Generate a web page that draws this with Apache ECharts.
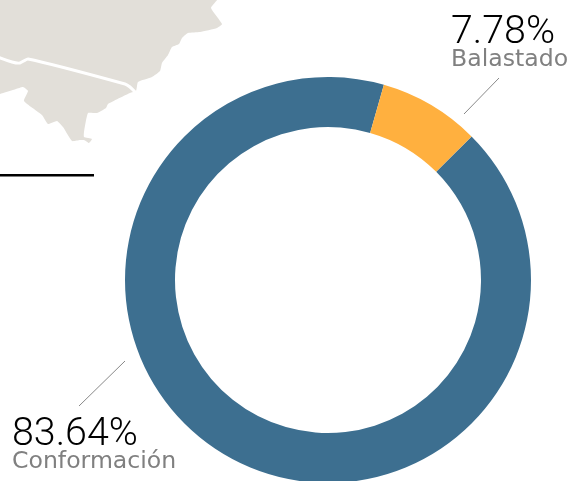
<!DOCTYPE html>
<html><head><meta charset="utf-8">
<style>html,body{margin:0;padding:0;background:#fff}#c{width:570px;height:481px}</style>
<script src="https://cdn.jsdelivr.net/npm/echarts@6/dist/echarts.min.js"></script>
</head><body><div id="c"></div>
<script>
const categories = ['Conformación', 'Balastado'];
const values = [83.64, 7.78];
const otherBlue = 5.1;
const colors = ['#3D6F90', '#FFB03F'];
const mapOutline = [[-20,-20],[225,-20],[217,0],[211,8],[222,24],[217,28],[200,32],[188,33],[182,38],[179,44],[172,47],[168,55],[162,63],[160,71],[152,77],[138,82],[136,91],[130,93],[108,104],[106,108],[97,113],[88,113],[84,132],[84,137],[92,139],[89,143],[84,140],[80,140],[72,141],[63,127],[57,121],[48,124],[42,115],[24,101],[28,91],[23,87],[16,89],[0,94],[-20,100]];
const mapBorder = [[-5,56],[12,62],[20,63],[28,59],[125,84],[130,87],[136,93]];
const fmt = v => v.toFixed(2) + '%';
const numFont = '300 39.4px Roboto, sans-serif';
const nameFont = '23.6px "DejaVu Sans", sans-serif';
function label(x, y, i) {
  return [
    {type:'text', style:{x, y, text:fmt(values[i]), font:numFont, fill:'#000'}},
    {type:'text', style:{x, y:y+34, text:categories[i], font:nameFont, fill:'#808080'}}
  ];
}
const chart = echarts.init(document.getElementById('c'), null, {renderer:'canvas'});
chart.setOption({
  animation:false,
  graphic:[
    {type:'polygon', shape:{points:mapOutline, smooth:0.15}, style:{fill:'#E2DFD9'}, z:0},
    {type:'polyline', shape:{points:mapBorder, smooth:0.15}, style:{stroke:'#fff', lineWidth:3, fill:null}, z:1},
    {type:'rect', shape:{x:0,y:174,width:94,height:2.5}, style:{fill:'#000'}},
    {type:'line', shape:{x1:499,y1:78,x2:464,y2:114}, style:{stroke:'#888', lineWidth:1}},
    {type:'line', shape:{x1:125,y1:361,x2:79,y2:406}, style:{stroke:'#888', lineWidth:1}},
    ...label(451, 14, 1),
    ...label(12, 416, 0)
  ],
  series:[{
    type:'pie', center:[328,280], radius:[153,203], startAngle:45, clockwise:true,
    silent:true, label:{show:false}, labelLine:{show:false}, z:5,
    data: [
      {name:categories[0], value:values[0]+otherBlue, itemStyle:{color:colors[0]}},
      {name:categories[1], value:values[1], itemStyle:{color:colors[1]}}
    ]
  }]
});
</script></body></html>
